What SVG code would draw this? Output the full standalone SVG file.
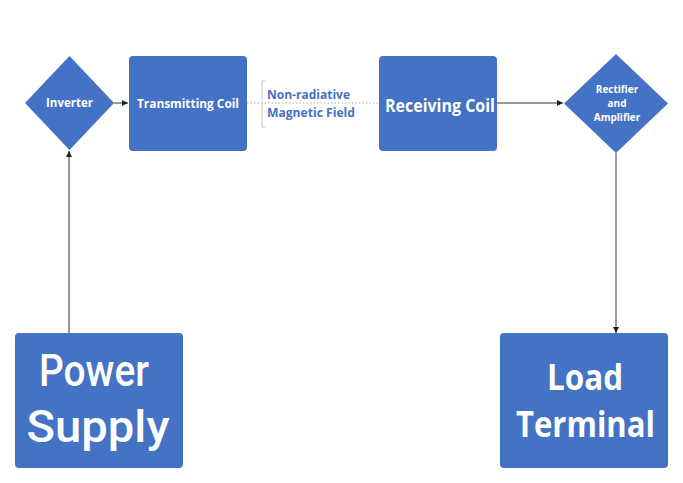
<svg xmlns="http://www.w3.org/2000/svg" width="683" height="483" viewBox="0 0 683 483">
<style>
.node{fill:#4472C4;}
.lbl{fill:#fff;font-family:"Open Sans","Noto Sans","DejaVu Sans",sans-serif;font-weight:bold;text-anchor:middle;}
.big{fill:#fff;font-family:Roboto,"Noto Sans","Liberation Sans",sans-serif;font-weight:500;text-anchor:middle;}
.edge{stroke:#333;stroke-width:1;fill:none;}
.field{fill:#4472C4;font-family:"Open Sans","Noto Sans",sans-serif;font-weight:bold;font-size:12.5px;}
</style>
<defs>
<marker id="ah" viewBox="0 0 10 10" refX="10" refY="5" markerWidth="6" markerHeight="6" orient="auto" markerUnits="userSpaceOnUse">
<path d="M0,0 L10,5 L0,10 z" fill="#222"/>
</marker>
</defs>
<rect width="683" height="483" fill="#fff"/>
<g id="connectors">
<line class="edge" x1="69" y1="333" x2="69" y2="151" marker-end="url(#ah)"/>
<line class="edge" x1="114" y1="103" x2="128" y2="103" marker-end="url(#ah)"/>
<line x1="247" y1="103" x2="379" y2="103" stroke="#aaa" stroke-width="1" stroke-dasharray="1.5,2"/>
<line class="edge" x1="497" y1="103" x2="563" y2="103" marker-end="url(#ah)"/>
<line class="edge" x1="616" y1="153" x2="616" y2="333" marker-end="url(#ah)"/>
</g>
<g id="inverter">
<polygon class="node" points="69.5,56 114,103 69.5,150 25,103"/>
<text class="lbl" x="69.5" y="107" font-size="11.5">Inverter</text>
</g>
<g id="transmitting-coil">
<rect class="node" x="129" y="56" width="118" height="95" rx="4"/>
<text class="lbl" x="188" y="108" font-size="12.5" textLength="102" lengthAdjust="spacingAndGlyphs">Transmitting Coil</text>
</g>
<g id="field-label">
<path d="M266,81 H262 V127 H266" fill="none" stroke="#c8c8c8" stroke-width="1"/>
<text class="field" x="267" y="99" textLength="83" lengthAdjust="spacingAndGlyphs">Non-radiative</text>
<text class="field" x="267" y="117" textLength="88" lengthAdjust="spacingAndGlyphs">Magnetic Field</text>
</g>
<g id="receiving-coil">
<rect class="node" x="379" y="56" width="118" height="95" rx="4"/>
<text class="lbl" x="440" y="112" font-size="17" textLength="110" lengthAdjust="spacingAndGlyphs">Receiving Coil</text>
</g>
<g id="rectifier-amplifier">
<polygon class="node" points="616,54 668,103.5 616,153 564,103.5"/>
<text class="lbl" x="617" y="93" font-size="10">Rectifier</text>
<text class="lbl" x="617" y="107" font-size="10">and</text>
<text class="lbl" x="617" y="121" font-size="10">Amplifier</text>
</g>
<g id="power-supply">
<rect class="node" x="15" y="333" width="168" height="135" rx="4"/>
<text class="big" x="94" y="386" font-size="44" textLength="110" lengthAdjust="spacingAndGlyphs">Power</text>
<text class="big" x="98" y="442" font-size="44" textLength="143" lengthAdjust="spacingAndGlyphs">Supply</text>
</g>
<g id="load-terminal">
<rect class="node" x="500" y="333" width="168" height="135" rx="4"/>
<text class="lbl" x="585" y="390" font-size="35" textLength="76" lengthAdjust="spacingAndGlyphs">Load</text>
<text class="lbl" x="585.5" y="437" font-size="35" textLength="139" lengthAdjust="spacingAndGlyphs">Terminal</text>
</g>
</svg>
